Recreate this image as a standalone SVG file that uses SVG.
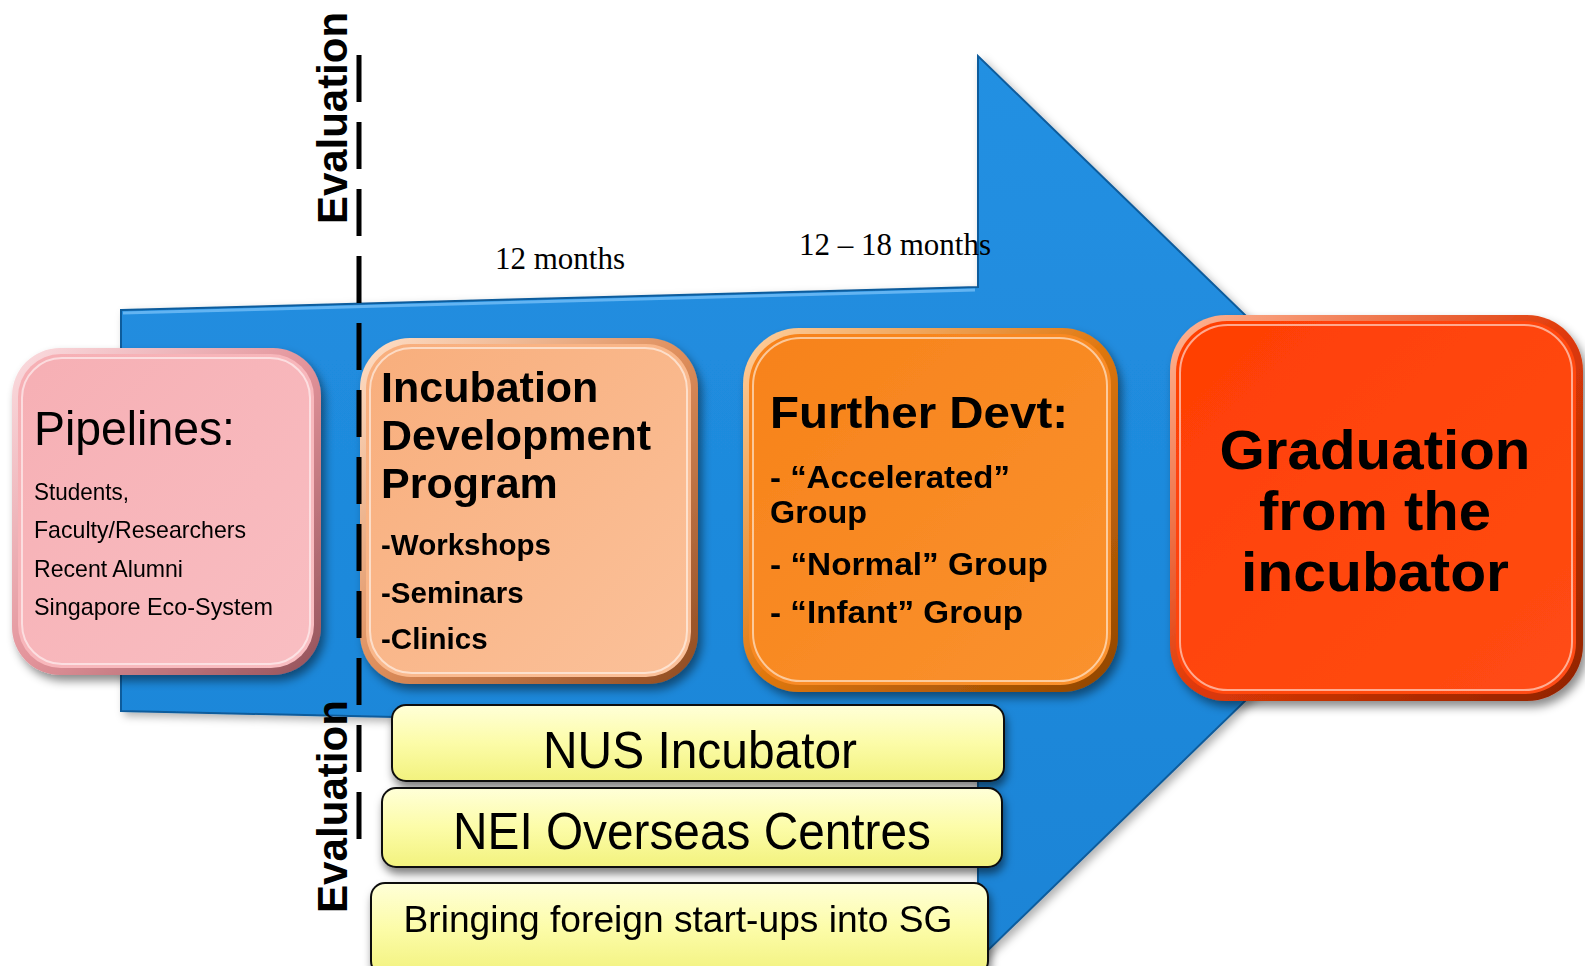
<svg xmlns="http://www.w3.org/2000/svg" width="1585" height="966" viewBox="0 0 1585 966">
<defs>
<style>
.sans{font-family:"Liberation Sans",Arial,sans-serif;fill:#000}
.b{font-weight:bold}
.serif{font-family:"Liberation Serif","Times New Roman",serif;fill:#000;font-size:31px}
.yl{fill:url(#yellow);stroke:#111;stroke-width:2}
.hl{fill:none;stroke:#fff;stroke-opacity:0.55;stroke-width:2}
</style>
<filter id="sh" x="-10%" y="-10%" width="125%" height="130%"><feDropShadow dx="4" dy="6" stdDeviation="5" flood-color="#000" flood-opacity="0.45"/></filter>
<filter id="shs" x="-5%" y="-20%" width="110%" height="150%"><feDropShadow dx="2" dy="6" stdDeviation="4" flood-color="#000" flood-opacity="0.5"/></filter>
<filter id="sha" x="-5%" y="-5%" width="110%" height="110%"><feDropShadow dx="4" dy="4" stdDeviation="4" flood-color="#000" flood-opacity="0.3"/></filter>
<linearGradient id="yellow" x1="0" y1="0" x2="0" y2="1"><stop offset="0" stop-color="#FFFFD8"/><stop offset="0.5" stop-color="#FCFCA8"/><stop offset="1" stop-color="#F2F27E"/></linearGradient>
<linearGradient id="blue" x1="0" y1="0" x2="0" y2="1"><stop offset="0" stop-color="#2390E2"/><stop offset="1" stop-color="#1A84D6"/></linearGradient>
<linearGradient id="rimP" x1="0" y1="0" x2="1" y2="1"><stop offset="0" stop-color="#FBDDE0"/><stop offset="0.5" stop-color="#E3949B"/><stop offset="1" stop-color="#94525A"/></linearGradient>
<linearGradient id="faceP" x1="0" y1="0" x2="1" y2="1"><stop offset="0" stop-color="#F6AFB4"/><stop offset="1" stop-color="#F9BEC2"/></linearGradient>
<linearGradient id="rimC" x1="0" y1="0" x2="1" y2="1"><stop offset="0" stop-color="#FFE0C8"/><stop offset="0.5" stop-color="#DE8E5C"/><stop offset="1" stop-color="#8E4A20"/></linearGradient>
<linearGradient id="faceC" x1="0" y1="0" x2="1" y2="1"><stop offset="0" stop-color="#F8AE7C"/><stop offset="1" stop-color="#FBC19A"/></linearGradient>
<linearGradient id="rimO" x1="0" y1="0" x2="1" y2="1"><stop offset="0" stop-color="#FFD0A0"/><stop offset="0.5" stop-color="#E07810"/><stop offset="1" stop-color="#8E4400"/></linearGradient>
<linearGradient id="faceO" x1="0" y1="0" x2="1" y2="1"><stop offset="0" stop-color="#F7821A"/><stop offset="1" stop-color="#FA922E"/></linearGradient>
<linearGradient id="rimR" x1="0" y1="0" x2="1" y2="1"><stop offset="0" stop-color="#FFB898"/><stop offset="0.5" stop-color="#E03A08"/><stop offset="1" stop-color="#8E2200"/></linearGradient>
<linearGradient id="faceR" x1="0" y1="0" x2="1" y2="1"><stop offset="0" stop-color="#FF3F04"/><stop offset="1" stop-color="#FF4C14"/></linearGradient>
</defs>
<rect width="1585" height="966" fill="#fff"/>

<g id="arrow" filter="url(#sha)">
<path d="M121,310 L978,287 L978,56 L1444,508 L978,960 L978,730 L121,711 Z" fill="url(#blue)" stroke="#0F5C9C" stroke-width="2" stroke-linejoin="miter"/>
<path d="M123,313 L975,290" stroke="#63B4F2" stroke-width="3" fill="none"/>
</g>

<g id="labels-top">
<text class="serif" x="495" y="269">12 months</text>
<text class="serif" x="799" y="255">12 – 18 months</text>
</g>

<g id="pipelines" filter="url(#sh)">
<rect x="12" y="348" width="309" height="327" rx="48" fill="url(#rimP)"/>
<rect x="18" y="354" width="296" height="314" rx="43" fill="url(#faceP)"/>
<rect x="22" y="358" width="288" height="306" rx="40" class="hl"/>
<text class="sans" x="34" y="445" font-size="48" textLength="201" lengthAdjust="spacingAndGlyphs">Pipelines:</text>
<text class="sans" x="34" y="500" font-size="24" textLength="95" lengthAdjust="spacingAndGlyphs">Students,</text>
<text class="sans" x="34" y="538" font-size="24" textLength="212" lengthAdjust="spacingAndGlyphs">Faculty/Researchers</text>
<text class="sans" x="34" y="577" font-size="24" textLength="149" lengthAdjust="spacingAndGlyphs">Recent Alumni</text>
<text class="sans" x="34" y="615" font-size="24" textLength="239" lengthAdjust="spacingAndGlyphs">Singapore Eco-System</text>
</g>

<g id="incubation" filter="url(#sh)">
<rect x="360" y="338" width="338" height="346" rx="50" fill="url(#rimC)"/>
<rect x="366" y="344" width="325" height="333" rx="45" fill="url(#faceC)"/>
<rect x="370" y="348" width="317" height="325" rx="42" class="hl"/>
<text class="sans b" x="381" y="402" font-size="43">Incubation</text>
<text class="sans b" x="381" y="450" font-size="43">Development</text>
<text class="sans b" x="381" y="498" font-size="43">Program</text>
<text class="sans b" x="381" y="555" font-size="29.5">-Workshops</text>
<text class="sans b" x="381" y="603" font-size="29.5">-Seminars</text>
<text class="sans b" x="381" y="649" font-size="29.5">-Clinics</text>
</g>

<g id="further" filter="url(#sh)">
<rect x="743" y="328" width="375" height="364" rx="56" fill="url(#rimO)"/>
<rect x="749" y="334" width="362" height="351" rx="51" fill="url(#faceO)"/>
<rect x="753" y="338" width="354" height="343" rx="48" class="hl"/>
<text class="sans b" x="770" y="428" font-size="44" textLength="298" lengthAdjust="spacingAndGlyphs">Further Devt:</text>
<text class="sans b" x="770" y="488" font-size="31" textLength="240" lengthAdjust="spacingAndGlyphs">- “Accelerated”</text>
<text class="sans b" x="770" y="523" font-size="31" textLength="97" lengthAdjust="spacingAndGlyphs">Group</text>
<text class="sans b" x="770" y="575" font-size="31" textLength="278" lengthAdjust="spacingAndGlyphs">- “Normal” Group</text>
<text class="sans b" x="770" y="623" font-size="31" textLength="253" lengthAdjust="spacingAndGlyphs">- “Infant” Group</text>
</g>

<g id="graduation" filter="url(#sh)">
<rect x="1170" y="315" width="413" height="386" rx="56" fill="url(#rimR)"/>
<rect x="1176" y="321" width="400" height="373" rx="51" fill="url(#faceR)"/>
<rect x="1180" y="325" width="392" height="365" rx="48" class="hl"/>
<text class="sans b" x="1375" y="469" font-size="56" text-anchor="middle" textLength="311" lengthAdjust="spacingAndGlyphs">Graduation</text>
<text class="sans b" x="1375" y="530" font-size="56" text-anchor="middle" textLength="232" lengthAdjust="spacingAndGlyphs">from the</text>
<text class="sans b" x="1375" y="591" font-size="56" text-anchor="middle" textLength="268" lengthAdjust="spacingAndGlyphs">incubator</text>
</g>

<g id="nus" filter="url(#shs)">
<rect class="yl" x="392" y="705" width="612" height="76" rx="14"/>
<text class="sans" x="700" y="768" font-size="52" text-anchor="middle" textLength="314" lengthAdjust="spacingAndGlyphs">NUS Incubator</text>
</g>
<g id="nei" filter="url(#shs)">
<rect class="yl" x="382" y="788" width="620" height="79" rx="14"/>
<text class="sans" x="692" y="849" font-size="52" text-anchor="middle" textLength="478" lengthAdjust="spacingAndGlyphs">NEI Overseas Centres</text>
</g>
<g id="bringing" filter="url(#shs)">
<rect class="yl" x="371" y="883" width="617" height="92" rx="14"/>
<text class="sans" x="678" y="932" font-size="37" text-anchor="middle" textLength="549" lengthAdjust="spacingAndGlyphs">Bringing foreign start-ups into SG</text>
</g>

<g id="evaluation">
<line x1="359" y1="55" x2="359" y2="839" stroke="#000" stroke-width="5" stroke-dasharray="47 20"/>
<text class="sans b" font-size="42" transform="translate(347,224) rotate(-90)" textLength="212" lengthAdjust="spacingAndGlyphs">Evaluation</text>
<text class="sans b" font-size="42" transform="translate(347,913) rotate(-90)" textLength="213" lengthAdjust="spacingAndGlyphs">Evaluation</text>
</g>
</svg>
